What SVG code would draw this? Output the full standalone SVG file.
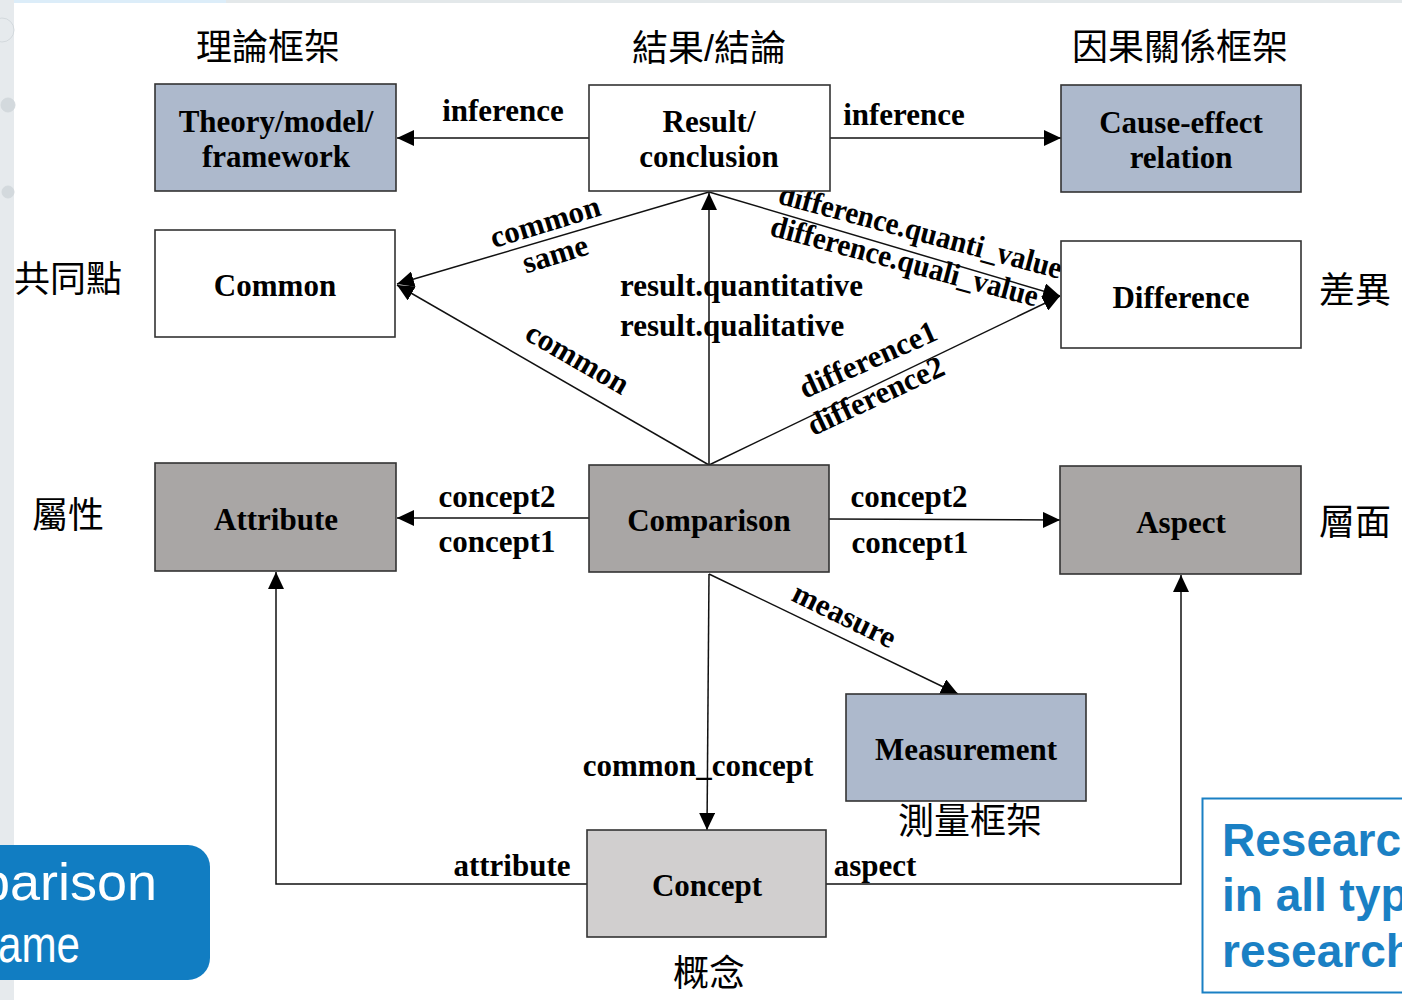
<svg xmlns="http://www.w3.org/2000/svg" width="1402" height="1000" viewBox="0 0 1402 1000">
<defs>
<style>
.box{stroke:#333;stroke-width:1.6}
.blue{fill:#adb9cc}
.gray{fill:#a9a6a5}
.white{fill:#fff}
.light{fill:#d1cfcf}
.nt{font-family:"Liberation Serif","Times New Roman",serif;font-weight:bold;font-size:31px;fill:#000;text-anchor:middle}
.lb{font-family:"Liberation Serif","Times New Roman",serif;font-weight:bold;font-size:31px;fill:#000;text-anchor:middle}
.zh{font-family:"Liberation Sans","Noto Sans CJK TC",sans-serif;font-size:36px;fill:#000;text-anchor:middle}
.edge{fill:none;stroke:#111;stroke-width:1.5}
</style>
<marker id="arr" markerUnits="userSpaceOnUse" markerWidth="18" markerHeight="16" refX="17" refY="8" orient="auto">
<path d="M0,0 L17,8 L0,16 z" fill="#000"/>
</marker>
</defs>
<rect x="0" y="0" width="1402" height="1000" fill="#fff"/>
<rect x="0" y="0" width="1402" height="3" fill="#e3e8ea"/>
<rect x="14" y="0" width="212" height="3" fill="#dcedf9"/>
<rect x="0" y="0" width="14" height="1000" fill="#e6eaed"/>
<g fill="none" stroke="#d3d9dd" stroke-width="1">
<circle cx="2" cy="30" r="12"/>
<circle cx="8" cy="105" r="7" fill="#d3d9dd"/>
<circle cx="8" cy="192" r="6" fill="#d3d9dd"/>
</g>

<g id="connectors">
<path class="edge" d="M589,138 L397,138" marker-end="url(#arr)"/>
<path class="edge" d="M830,138 L1061,138" marker-end="url(#arr)"/>
<path class="edge" d="M709,192 L397,284" marker-end="url(#arr)"/>
<path class="edge" d="M709,465 L397,285" marker-end="url(#arr)"/>
<path class="edge" d="M709,465 L709,193" marker-end="url(#arr)"/>
<path class="edge" d="M709,192 L1060,296" marker-end="url(#arr)"/>
<path class="edge" d="M709,465 L1060,296" marker-end="url(#arr)"/>
<path class="edge" d="M589,518 L397,518" marker-end="url(#arr)"/>
<path class="edge" d="M829,519 L1060,520" marker-end="url(#arr)"/>
<path class="edge" d="M709,574 L958,694" marker-end="url(#arr)"/>
<path class="edge" d="M709,574 L707,830" marker-end="url(#arr)"/>
<path class="edge" d="M587,884 L276,884 L276,572" marker-end="url(#arr)"/>
<path class="edge" d="M826,884 L1181,884 L1181,575" marker-end="url(#arr)"/>

<text class="lb" x="503" y="121">inference</text>
<text class="lb" x="904" y="125">inference</text>
<text class="lb" transform="translate(546,225) rotate(-17)" y="7">common</text>
<text class="lb" transform="translate(556,257) rotate(-17)" y="7">same</text>
<text class="lb" transform="translate(576,361) rotate(30)" y="7">common</text>
<text class="lb" x="620" y="296" style="text-anchor:start">result.quantitative</text>
<text class="lb" x="620" y="336" style="text-anchor:start">result.qualitative</text>
<text class="lb" transform="translate(918,241) rotate(15)" y="0" textLength="292" lengthAdjust="spacingAndGlyphs">difference.quanti_value</text>
<text class="lb" transform="translate(902,271) rotate(15)" y="0" textLength="276" lengthAdjust="spacingAndGlyphs">difference.quali_value</text>
<text class="lb" transform="translate(872,369) rotate(-24)" y="0">difference1</text>
<text class="lb" transform="translate(880,405) rotate(-25)" y="0">difference2</text>
<text class="lb" x="497" y="507">concept2</text>
<text class="lb" x="497" y="552">concept1</text>
<text class="lb" x="909" y="507">concept2</text>
<text class="lb" x="910" y="553">concept1</text>
<text class="lb" transform="translate(843,618) rotate(26)" y="7">measure</text>
<text class="lb" x="698" y="776">common_concept</text>
<text class="lb" x="512" y="876">attribute</text>
<text class="lb" x="875" y="876">aspect</text>
</g>

<g id="theory">
<rect class="box blue" x="155" y="84" width="241" height="107"/>
<text class="nt" x="276" y="132">Theory/model/</text>
<text class="nt" x="276" y="167">framework</text>
</g>
<g id="result">
<rect class="box white" x="589" y="85" width="241" height="106"/>
<text class="nt" x="709" y="132">Result/</text>
<text class="nt" x="709" y="167">conclusion</text>
</g>
<g id="cause">
<rect class="box blue" x="1061" y="85" width="240" height="107"/>
<text class="nt" x="1181" y="133">Cause-effect</text>
<text class="nt" x="1181" y="168">relation</text>
</g>
<g id="common">
<rect class="box white" x="155" y="230" width="240" height="107"/>
<text class="nt" x="275" y="296">Common</text>
</g>
<g id="difference">
<rect class="box white" x="1061" y="241" width="240" height="107"/>
<text class="nt" x="1181" y="308">Difference</text>
</g>
<g id="attribute">
<rect class="box gray" x="155" y="463" width="241" height="108"/>
<text class="nt" x="276" y="530">Attribute</text>
</g>
<g id="comparison">
<rect class="box gray" x="589" y="465" width="240" height="107"/>
<text class="nt" x="709" y="531">Comparison</text>
</g>
<g id="aspect">
<rect class="box gray" x="1060" y="466" width="241" height="108"/>
<text class="nt" x="1181" y="533">Aspect</text>
</g>
<g id="measurement">
<rect class="box blue" x="846" y="694" width="240" height="107"/>
<text class="nt" x="966" y="760">Measurement</text>
</g>
<g id="concept">
<rect class="box light" x="587" y="830" width="239" height="107"/>
<text class="nt" x="707" y="896">Concept</text>
</g>

<g id="zh-labels">
<text class="zh" x="268" y="60">理論框架</text>
<text class="zh" x="709" y="61">結果/結論</text>
<text class="zh" x="1180" y="60">因果關係框架</text>
<text class="zh" x="68" y="292">共同點</text>
<text class="zh" x="1355" y="303">差異</text>
<text class="zh" x="68" y="528">屬性</text>
<text class="zh" x="1355" y="535">層面</text>
<text class="zh" x="970" y="834">測量框架</text>
<text class="zh" x="709" y="986">概念</text>
</g>

<g id="left-banner">
<rect x="-30" y="845" width="240" height="135" rx="22" fill="#117dc2"/>
<text x="-20" y="900" font-family="Liberation Sans, Arial, sans-serif" font-size="52" fill="#fff" textLength="177" lengthAdjust="spacingAndGlyphs">parison</text>
<text x="-2" y="962" font-family="Liberation Sans, Arial, sans-serif" font-size="52" fill="#fff" textLength="82" lengthAdjust="spacingAndGlyphs">ame</text>
</g>
<g id="right-banner">
<rect x="1202.5" y="798.5" width="210" height="194" fill="#fff" stroke="#1a80c4" stroke-width="2"/>
<g font-family="Liberation Sans, Arial, sans-serif" font-weight="bold" font-size="46" fill="#1a80c4">
<text x="1222" y="856">Research</text>
<text x="1222" y="911">in all typ</text>
<text x="1222" y="967">research</text>
</g>
</g>
</svg>
